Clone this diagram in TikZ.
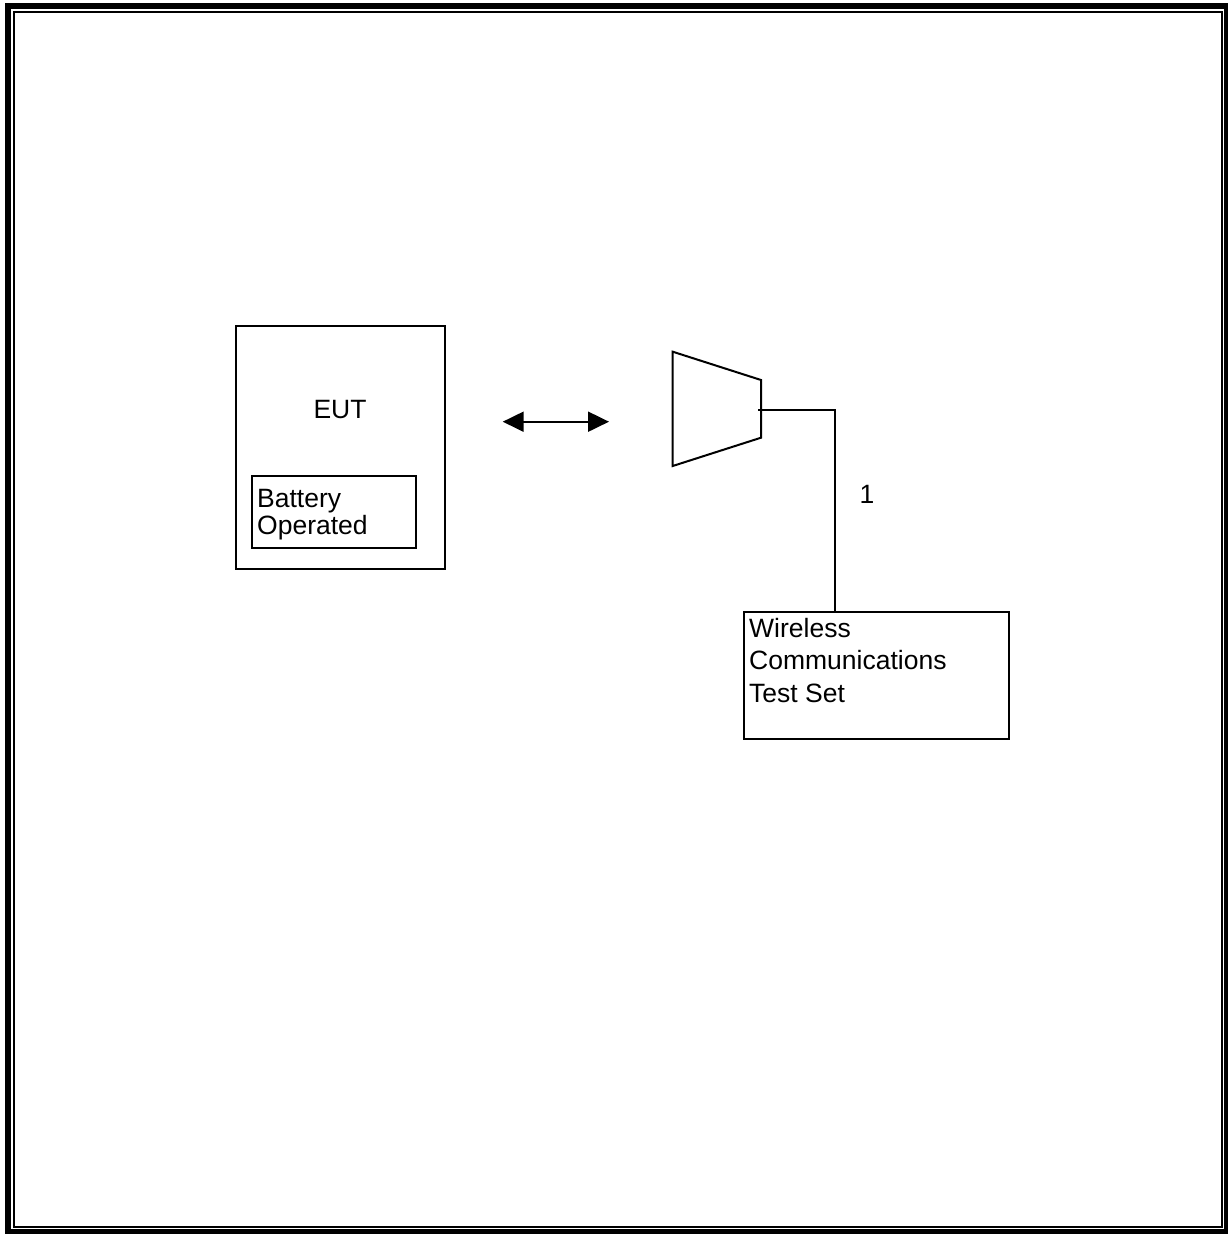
\documentclass[tikz,border=0pt]{standalone}
\usepackage{fontspec}
\setmainfont{Liberation Sans}
\usetikzlibrary{arrows.meta}
\tikzset{
  box/.style={draw, line width=2pt, rectangle, inner sep=0pt},
  lbl/.style={inner sep=0pt, font=\fontsize{26.5}{26.7}\selectfont},
  wire/.style={line width=2pt},
}
\begin{document}
\begin{tikzpicture}[x=1pt,y=-1pt]
\useasboundingbox (0,0) rectangle (1228,1234);
% page frame
\draw[line width=6pt] (8,5.5) rectangle (1226.5,1231.5);
\draw[line width=2pt] (14,11.5) rectangle (1221.5,1227);
% EUT
\node[box, minimum width=209pt, minimum height=243pt] (eut) at (340.5,447.5) {};
\node[lbl] (euttext) at (340,410) {EUT};
\node[box, minimum width=164pt, minimum height=72pt] (batt) at (333.8,511.8) {};
\node[lbl, anchor=base west, align=left, font=\fontsize{26.5}{26.5}\selectfont] (batttext) at (257,534) {Battery\\Operated};
% radio link arrow
\coordinate (al) at (502.7,421.7);
\coordinate (ar) at (609,421.7);
\draw[wire, {Triangle[length=21pt,width=20pt]}-{Triangle[length=21pt,width=20pt]}] (al) -- (ar);
% antenna (trapezoid)
\draw[wire, line join=miter] (672.7,351.7) coordinate (tl) -- (761,380) coordinate (tr) -- (761,437.7) coordinate (br) -- (672.7,466) coordinate (bl) -- cycle;
\coordinate (ant) at (758,410);
\coordinate (corner) at (834.5,410);
% test set
\node[box, minimum width=265pt, minimum height=127.3pt] (wts) at (876.5,675.4) {};
\node[lbl, anchor=base west, align=left, font=\fontsize{26.5}{32.5}\selectfont] (wtstext) at (749,702) {Wireless\\Communications\\Test Set};
% cable
\draw[wire] (ant) -- (corner) -- (corner |- wts.north);
\node[lbl] (cable) at (867,494) {1};
\end{tikzpicture}
\end{document}
